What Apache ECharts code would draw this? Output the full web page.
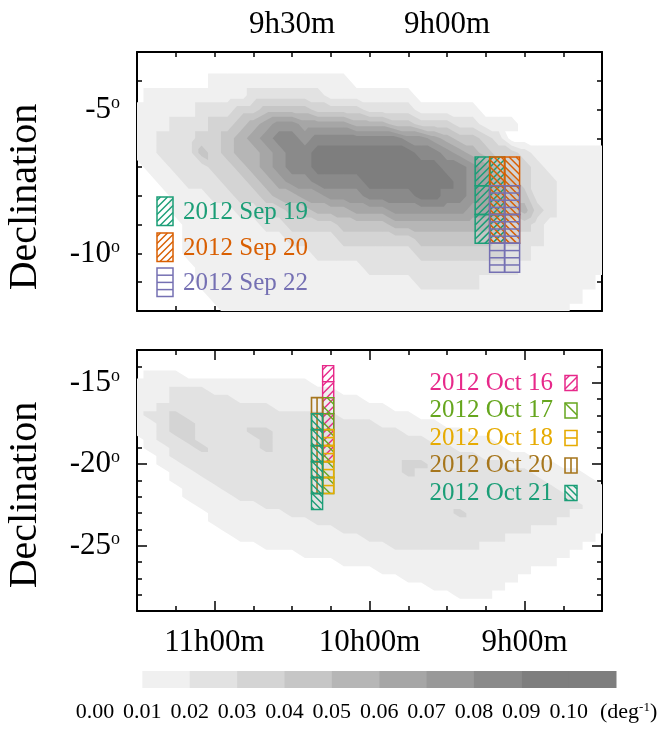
<!DOCTYPE html>
<html>
<head>
<meta charset="utf-8">
<title>Pointing fields over source density</title>
<script src="https://cdn.jsdelivr.net/npm/echarts@6.0.0/dist/echarts.min.js"></script>
<style>
  html, body { margin: 0; padding: 0; background: #fff; }
  #chart { width: 663px; height: 730px; }
</style>
</head>
<body>
<div id="chart"></div>
<script>
// ---------------------------------------------------------------------------
// Data
// ---------------------------------------------------------------------------
// Density level at each grid node: digit n means n/100 .. (n+1)/100 deg^-1.
// September map nodes: RA 10h00m -> 8h30m every 2.5 min, Dec -3 -> -12 every 0.5 deg.
const sepGrid = { ra0: 600, dRa: -2.5, dec0: -3, dDec: -0.5 };
const sepDensity = [
  '0000000000000000000000000000000000000',
  '0000000000000000000000000000000000000',
  '0000001111111111100000000000000000000',
  '0111111112222221111111000000000000000',
  '1111122233444433332222111110000000000',
  '1112223345677666655544333221110000000',
  '1122233456788788888887765443200000000',
  '1122243455678899999999887654332111111',
  '0112223345678899999999998876433211111',
  '0011222334567788889999999876543221111',
  '0001112233455667778888998876544221111',
  '0001111122334455566677777766545321111',
  '0000111111223333444455555555433211111',
  '0000111111112222333333444444332211111',
  '0000111111111122222222333333322111111',
  '0000011111111111112222222222221111111',
  '0000011111111111111111222221111111110',
  '0000001111111111111111111111111111100',
  '0000000111111111111111111111111111000'
];
// October map nodes: RA 11h30m -> 8h30m every 5 min, Dec -13 -> -29 every 0.5 deg.
const octGrid = { ra0: 690, dRa: -5, dec0: -13, dDec: -0.5 };
const octDensity = [
  '0000000000000000000000000000000000000',
  '0000000000000000000000000000000000000',
  '0000000000000000000000000000000000000',
  '0111000000000000000000000000000000000',
  '1111111111111100000000000000000000000',
  '1112221111111111000000000000000000000',
  '1112222211111111110000000000000000000',
  '1122222222211111111100000000000000000',
  '1223222222222222111111000000000000000',
  '1123322222222222222111110000000000000',
  '1123322223322222222221111100000000000',
  '0122322222322222222222211111000000000',
  '0112232222322222222222222111100000000',
  '0012222222222222222222222221111000000',
  '0011222222222222222223322222211110000',
  '0001122222222222222223222222222111100',
  '0001112222222222222222222222222211110',
  '0000111222222222222222222222222221111',
  '0000111122222222222222222222222222111',
  '0000011111222222222222222222222222211',
  '0000001111112222222222222322222222111',
  '0000001111111122222222222222222221111',
  '0000000111111111222222222222222111111',
  '0000000011111111112222222222211111110',
  '0000000000111111111122222221111111100',
  '0000000000000111111111111111111111000',
  '0000000000000000111111111111111110000',
  '0000000000000000000111111111111000000',
  '0000000000000000000001111111110000000',
  '0000000000000000000000011111100000000',
  '0000000000000000000000000111000000000',
  '0000000000000000000000000000000000000',
  '0000000000000000000000000000000000000'
];

// Pointing field centres: [RA (minutes of time), Dec (deg)]
const sep19 = [[533.1, -7.15], [533.1, -8.15], [533.1, -9.15], [530.3, -7.15], [530.3, -8.15], [530.3, -9.15]];
const sep20 = [[530.3, -7.15], [530.3, -8.15], [530.3, -9.15], [527.4, -7.15], [527.4, -8.15], [527.4, -9.15]];
const sep22 = [[530.3, -8.15], [530.3, -9.15], [530.3, -10.15], [527.4, -8.15], [527.4, -9.15], [527.4, -10.15]];
const oct16 = [[616.0, -14.45], [616.0, -15.43], [616.0, -16.41], [616.0, -17.39], [616.0, -18.37], [616.0, -19.35]];
const oct17 = [[616.0, -16.41], [616.0, -17.39], [616.0, -18.37], [616.0, -19.35], [616.0, -20.33], [616.0, -21.31]];
const oct18 = [[616.0, -18.37], [616.0, -19.35], [616.0, -20.33], [616.0, -21.31]];
const oct20 = [[620.3, -16.41], [620.3, -17.39], [620.3, -18.37], [620.3, -19.35], [620.3, -20.33], [620.3, -21.31]];
const oct21 = [[620.3, -17.39], [620.3, -18.37], [620.3, -19.35], [620.3, -20.33], [620.3, -21.31], [620.3, -22.29]];

// Tick labels
const sepRaLabels = [570, 540];
const octRaLabels = [660, 600, 540];
const sepDecLabels = [-5, -10];
const octDecLabels = [-15, -20, -25];
const colorbarEdges = [0.01, 0.02, 0.03, 0.04, 0.05, 0.06, 0.07, 0.08, 0.09, 0.10, 0.11];

// ---------------------------------------------------------------------------
// Styles
// ---------------------------------------------------------------------------
const FONT = '"Liberation Serif", "Times New Roman", serif';
const levelColors = ['#ffffff', '#f0f0f0', '#e2e2e2', '#d4d4d4', '#c6c6c6', '#b6b6b6',
                     '#a6a6a6', '#999999', '#8a8a8a', '#7e7e7e', '#7e7e7e'];
const sepFieldSize = { ra: 2.9, dec: 1.0 };
const octFieldSize = { ra: 4.3, dec: 0.98 };
const fieldStyles = {
  sep19: { color: '#1b9e77', hatch: '/', step: 7, lw: 1.5 },
  sep20: { color: '#d95f02', hatch: '\\', step: 7, lw: 1.5 },
  sep22: { color: '#7570b3', hatch: '-', step: 7.2, lw: 1.5 },
  oct16: { color: '#e7298a', hatch: '/', step: 8, lw: 1.4 },
  oct17: { color: '#66a61e', hatch: '\\', step: 13, lw: 1.4 },
  oct18: { color: '#e6ab02', hatch: 'mid-', lw: 1.6 },
  oct20: { color: '#a6761d', hatch: 'mid|', lw: 1.6 },
  oct21: { color: '#1b9e77', hatch: '\\', step: 7, lw: 1.4 }
};
const sepLegendStyle = {
  sep19: fieldStyles.sep19,
  sep20: { color: '#d95f02', hatch: '/', step: 7, lw: 1.5 },
  sep22: fieldStyles.sep22
};
const octLegendStyle = {
  oct16: { color: '#e7298a', hatch: '/', step: 9, lw: 1.5 },
  oct17: { color: '#66a61e', hatch: '\\', step: 24, lw: 1.5 },
  oct18: { color: '#e6ab02', hatch: 'mid-', lw: 1.6 },
  oct20: { color: '#a6761d', hatch: 'mid|', lw: 1.6 },
  oct21: { color: '#1b9e77', hatch: '\\', step: 7, lw: 1.5 }
};

// ---------------------------------------------------------------------------
// Drawing helpers
// ---------------------------------------------------------------------------
function hatchSegments(x0, y0, w, h, kind, step) {
  const x1 = x0 + w, y1 = y0 + h;
  const segs = [];
  const seg = (ax, ay, bx, by) => segs.push([ax, ay, bx, by]);
  if (kind === '/') {
    for (let c = x0 + y0 + step / 2; c < x1 + y1; c += step) {
      const xa = Math.max(x0, c - y1), xb = Math.min(x1, c - y0);
      if (xb > xa) seg(xa, c - xa, xb, c - xb);
    }
  } else if (kind === '\\') {
    for (let c = y0 - x1 + step / 2; c < y1 - x0; c += step) {
      const xa = Math.max(x0, y0 - c), xb = Math.min(x1, y1 - c);
      if (xb > xa) seg(xa, xa + c, xb, xb + c);
    }
  } else if (kind === '-') {
    for (let y = y0 + step; y < y1 - 1; y += step) seg(x0, y, x1, y);
  } else if (kind === 'mid-') {
    seg(x0, y0 + h / 2, x1, y0 + h / 2);
  } else if (kind === 'mid|') {
    seg(x0 + w / 2, y0, x0 + w / 2, y1);
  }
  return segs;
}

function boxElements(x, y, w, h, st, z) {
  const children = hatchSegments(x, y, w, h, st.hatch, st.step).map(s => ({
    type: 'line', z: z, shape: { x1: s[0], y1: s[1], x2: s[2], y2: s[3] },
    style: { stroke: st.color, lineWidth: st.lw }
  }));
  children.push({ type: 'rect', z: z, shape: { x: x, y: y, width: w, height: h }, style: { fill: 'none', stroke: st.color, lineWidth: st.lw } });
  return children;
}

// Filled contour band "value >= level" of a node grid, traced with triangles.
function densityRenderer(rows, g) {
  return function (params, api) {
    const level = api.value(0);
    const nj = rows.length, ni = rows[0].length;
    const P = [], V = [];
    for (let j = 0; j < nj; j++) {
      P.push([]); V.push([]);
      for (let i = 0; i < ni; i++) {
        P[j].push(api.coord([g.ra0 + g.dRa * i, g.dec0 + g.dDec * j]));
        V[j].push(Number(rows[j].charAt(i) || 0) + 0.5);
      }
    }
    let d = '';
    const poly = (pts) => {
      if (pts.length < 3) return;
      d += 'M' + pts.map(p => p[0].toFixed(2) + ' ' + p[1].toFixed(2)).join('L') + 'Z';
    };
    const clipTri = (T) => {
      const pts = [];
      for (let k = 0; k < 3; k++) {
        const p = T[k], q = T[(k + 1) % 3];
        const inP = p.v >= level, inQ = q.v >= level;
        if (inP) pts.push(p.p);
        if (inP !== inQ) {
          const f = (level - p.v) / (q.v - p.v);
          pts.push([p.p[0] + f * (q.p[0] - p.p[0]), p.p[1] + f * (q.p[1] - p.p[1])]);
        }
      }
      poly(pts);
    };
    for (let j = 0; j < nj - 1; j++) {
      for (let i = 0; i < ni - 1; i++) {
        const a = { p: P[j][i], v: V[j][i] }, b = { p: P[j][i + 1], v: V[j][i + 1] };
        const c = { p: P[j + 1][i + 1], v: V[j + 1][i + 1] }, e = { p: P[j + 1][i], v: V[j + 1][i] };
        const mx = Math.max(a.v, b.v, c.v, e.v), mn = Math.min(a.v, b.v, c.v, e.v);
        if (mx < level) continue;
        if (mn >= level) { poly([a.p, b.p, c.p, e.p]); continue; }
        clipTri([a, b, c]);
        clipTri([a, c, e]);
      }
    }
    if (!d) return null;
    return { type: 'path', shape: { pathData: d }, style: { fill: levelColors[level], stroke: null } };
  };
}

function fieldRenderer(size, st) {
  return function (params, api) {
    const ra = api.value(0), dec = api.value(1);
    const p0 = api.coord([ra + size.ra / 2, dec + size.dec / 2]);
    const p1 = api.coord([ra - size.ra / 2, dec - size.dec / 2]);
    const x = Math.min(p0[0], p1[0]), y = Math.min(p0[1], p1[1]);
    const w = Math.abs(p1[0] - p0[0]), h = Math.abs(p1[1] - p0[1]);
    return { type: 'group', children: boxElements(x, y, w, h, st) };
  };
}

function raText(v) {
  const h = Math.floor(v / 60), m = Math.round(v - 60 * h);
  return h + 'h' + String(m).padStart(2, '0') + 'm';
}

// ---------------------------------------------------------------------------
// Axes
// ---------------------------------------------------------------------------
const black = '#000';
function frameAxis(o) {
  const len = o.tickLen || 5;
  const ax = Object.assign({
    type: 'value',
    axisLine: { show: o.line !== false, onZero: false, lineStyle: { color: black, width: 2 } },
    axisTick: { show: true, inside: true, length: len, lineStyle: { color: black, width: 1.5 } },
    axisLabel: { show: false },
    splitLine: { show: false }
  }, o.base);
  if (o.customTicks) ax.axisTick.customValues = o.customTicks;
  if (o.label) ax.axisLabel = o.label;
  return ax;
}

const raLabel = (list, margin) => ({
  show: true, margin: margin, fontSize: 31, fontFamily: FONT, color: black,
  formatter: v => (list.indexOf(Math.round(v)) >= 0 ? raText(Math.round(v)) : '')
});
const decLabel = (list) => ({
  show: true, margin: 17, color: black, fontFamily: FONT,
  formatter: v => (list.indexOf(Math.round(v)) >= 0 ? '{n|' + Math.round(v) + '}{o|o}' : ''),
  rich: {
    n: { fontSize: 31, fontFamily: FONT, color: black, lineHeight: 31 },
    o: { fontSize: 18, fontFamily: FONT, color: black, verticalAlign: 'top', lineHeight: 18 }
  }
});

const sepX = { gridIndex: 0, min: 510, max: 600, interval: 7.5, inverse: true };
const sepY = { gridIndex: 0, min: -12, max: -3, interval: 1 };
const octX = { gridIndex: 1, min: 510, max: 690, interval: 15, inverse: true };
const octY = { gridIndex: 1, min: -29, max: -13, interval: 1 };

const xAxes = [
  frameAxis({ base: Object.assign({ position: 'bottom' }, sepX) }),                                   // 0
  frameAxis({ base: Object.assign({ position: 'top' }, sepX), label: raLabel(sepRaLabels, 12) }),     // 1
  frameAxis({ base: Object.assign({ position: 'bottom' }, octX), label: raLabel(octRaLabels, 16) }),  // 2
  frameAxis({ base: Object.assign({ position: 'bottom' }, octX), line: false, tickLen: 10, customTicks: octRaLabels }), // 3
  frameAxis({ base: Object.assign({ position: 'top' }, octX) }),                                      // 4
  frameAxis({ base: Object.assign({ position: 'top' }, octX), line: false, tickLen: 10, customTicks: octRaLabels }),    // 5
  {                                                                                                   // 6 colour bar
    type: 'value', gridIndex: 2, min: 0, max: 0.11, interval: 0.01, position: 'bottom',
    axisLine: { show: false }, axisTick: { show: false }, splitLine: { show: false },
    axisLabel: {
      show: true, margin: 13, fontSize: 22, fontFamily: FONT, color: black,
      formatter: v => (v < 0.105 ? v.toFixed(2) : '')
    }
  }
];
const yAxes = [
  frameAxis({ base: Object.assign({ position: 'left' }, sepY), label: decLabel(sepDecLabels) }),      // 0
  frameAxis({ base: Object.assign({ position: 'right' }, sepY) }),                                    // 1
  frameAxis({ base: Object.assign({ position: 'left' }, octY), label: decLabel(octDecLabels) }),      // 2
  frameAxis({ base: Object.assign({ position: 'left' }, octY), line: false, tickLen: 10, customTicks: octDecLabels }),  // 3
  frameAxis({ base: Object.assign({ position: 'right' }, octY) }),                                    // 4
  frameAxis({ base: Object.assign({ position: 'right' }, octY), line: false, tickLen: 10, customTicks: octDecLabels }), // 5
  { type: 'value', gridIndex: 2, min: 0, max: 1, show: false }                                       // 6
];

// ---------------------------------------------------------------------------
// Series
// ---------------------------------------------------------------------------
const levels = [1, 2, 3, 4, 5, 6, 7, 8, 9];
const series = [
  { type: 'custom', name: 'sep-density', xAxisIndex: 0, yAxisIndex: 0, clip: true, silent: true, z: 1,
    data: levels.map(l => [l]), renderItem: densityRenderer(sepDensity, sepGrid) },
  { type: 'custom', name: 'oct-density', xAxisIndex: 2, yAxisIndex: 2, clip: true, silent: true, z: 1,
    data: levels.map(l => [l]), renderItem: densityRenderer(octDensity, octGrid) }
];
[['sep19', sep19], ['sep20', sep20], ['sep22', sep22]].forEach(([k, arr]) => {
  series.push({ type: 'custom', name: k, xAxisIndex: 0, yAxisIndex: 0, clip: true, silent: true, z: 3,
    data: arr, renderItem: fieldRenderer(sepFieldSize, fieldStyles[k]) });
});
[['oct16', oct16], ['oct17', oct17], ['oct18', oct18], ['oct20', oct20], ['oct21', oct21]].forEach(([k, arr]) => {
  series.push({ type: 'custom', name: k, xAxisIndex: 2, yAxisIndex: 2, clip: true, silent: true, z: 3,
    data: arr, renderItem: fieldRenderer(octFieldSize, fieldStyles[k]) });
});
// colour bar blocks
series.push({
  type: 'custom', name: 'colorbar', xAxisIndex: 6, yAxisIndex: 6, silent: true,
  data: colorbarEdges.slice(0, -1).map((lo, i) => [lo, colorbarEdges[i + 1], i + 1]),
  renderItem: function (params, api) {
    const p0 = api.coord([api.value(0), 1]), p1 = api.coord([api.value(1), 0]);
    return { type: 'rect', shape: { x: p0[0], y: p0[1], width: p1[0] - p0[0] + 0.5, height: p1[1] - p0[1] },
             style: { fill: levelColors[api.value(2)], stroke: null } };
  }
});

// ---------------------------------------------------------------------------
// Legends and titles
// ---------------------------------------------------------------------------
const TOP = 50;
const graphics = [];
[['Declination', 197], ['Declination', 495]].forEach(([t, y]) => {
  graphics.push({ type: 'text', z: TOP, x: 25, y: y, rotation: Math.PI / 2,
    style: { text: t, font: '40px ' + FONT, fill: black, align: 'center', verticalAlign: 'middle' } });
});
[['2012 Sep 19', 'sep19', 197], ['2012 Sep 20', 'sep20', 233], ['2012 Sep 22', 'sep22', 268]].forEach(([t, k, y]) => {
  graphics.push({ type: 'group', z: TOP, children: boxElements(157, y, 16, 28.5, sepLegendStyle[k], TOP) });
  graphics.push({ type: 'text', z: TOP, x: 183, y: y + 15, style: { text: t, font: '25px ' + FONT, fill: fieldStyles[k].color, align: 'left', verticalAlign: 'middle' } });
});
[['2012 Oct 16', 'oct16', 383], ['2012 Oct 17', 'oct17', 410.5], ['2012 Oct 18', 'oct18', 438],
 ['2012 Oct 20', 'oct20', 465.5], ['2012 Oct 21', 'oct21', 493]].forEach(([t, k, y]) => {
  graphics.push({ type: 'text', z: TOP, x: 553, y: y, style: { text: t, font: '25px ' + FONT, fill: fieldStyles[k].color, align: 'right', verticalAlign: 'middle' } });
  graphics.push({ type: 'group', z: TOP, children: boxElements(565, y - 7.5, 12, 15, octLegendStyle[k], TOP) });
});
graphics.push({ type: 'text', z: TOP, x: 600, y: 712,
  style: { text: '{a|(deg}{s|-1}{a|)}', align: 'left', verticalAlign: 'middle',
    rich: { a: { font: '22px ' + FONT, fill: black, lineHeight: 22 }, s: { font: '13px ' + FONT, fill: black, verticalAlign: 'top', lineHeight: 13 } } } });

// ---------------------------------------------------------------------------
const chart = echarts.init(document.getElementById('chart'), null, { renderer: 'canvas' });
chart.setOption({
  animation: false,
  backgroundColor: '#fff',
  textStyle: { fontFamily: FONT },
  grid: [
    { left: 137, top: 52, width: 465, height: 259 },
    { left: 137, top: 350, width: 465, height: 261 },
    { left: 95, top: 671, width: 521, height: 17 }
  ],
  xAxis: xAxes,
  yAxis: yAxes,
  series: series,
  graphic: graphics
});
</script>
</body>
</html>
